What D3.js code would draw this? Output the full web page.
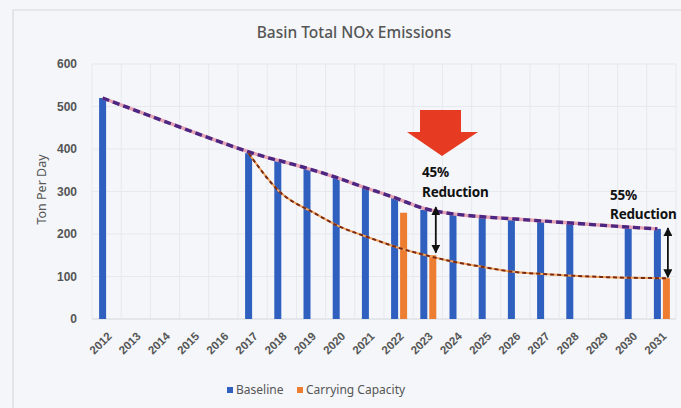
<!DOCTYPE html>
<html>
<head>
<meta charset="utf-8">
<script src="https://cdn.jsdelivr.net/npm/d3@7"></script>
<style>
  body { margin: 0; background: #f4f6f9; }
  svg { display: block; font-family: "Noto Sans", "Open Sans", sans-serif; }
</style>
</head>
<body>
<div class="chart"></div>
<script>
const years = ["2012","2013","2014","2015","2016","2017","2018","2019","2020","2021",
               "2022","2023","2024","2025","2026","2027","2028","2029","2030","2031"]
// null = no bar that year
const baseline = [520,null,null,null,null,390,374,355,334,308,
                  287,257,247,240,236,231,226,null,216,212]
const carrying = [null,null,null,null,null,null,null,null,null,null,
                  250,150,null,null,null,null,null,null,null,96]
// lower dashed curve, from 2017 on
const targetYears = ["2017","2018","2019","2020","2021","2022","2023","2024","2025","2026","2027","2028","2029","2030","2031"]
const targetPath = [390,299,256,219,193,169,150,134,122,111,106,102,99,97,96]
const yTicks = [0,100,200,300,400,500,600]
const seriesNames = ["Baseline","Carrying Capacity"]
const colors = ["#2f5fbf", "#ed7d31"]

const width = 681, height = 408
const plot = {left: 92, right: 676, top: 64, bottom: 319}

const svg = d3.select(".chart").append("svg")
    .attr("width", width)
    .attr("height", height)

svg.append("rect").attr("width", width).attr("height", height).attr("fill", "#f4f6f9")
// frame of the pasted chart
svg.append("path")
    .attr("d", `M13,${height} V10 H${width}`)
    .attr("fill", "none").attr("stroke", "#d6d9de").attr("stroke-width", 1.2)

const x = d3.scaleBand().domain(years).range([plot.left, plot.right])
const y = d3.scaleLinear().domain([0, 600]).range([plot.bottom, plot.top])
const barW = 7
const blueX = d => x(d) + x.bandwidth() / 2 - 7.5
const orangeX = d => x(d) + x.bandwidth() / 2 + 1.5

// grid
svg.append("g")
    .selectAll("line.h")
    .data(yTicks)
    .join("line")
    .attr("x1", plot.left).attr("x2", plot.right)
    .attr("y1", d => y(d)).attr("y2", d => y(d))
    .attr("stroke", "#e6e9ee").attr("stroke-width", 1)
svg.append("g")
    .selectAll("line")
    .data(years.concat(["end"]))
    .join("line")
    .attr("x1", d => d === "end" ? plot.right : x(d))
    .attr("x2", d => d === "end" ? plot.right : x(d))
    .attr("y1", plot.top).attr("y2", plot.bottom)
    .attr("stroke", "#e6e9ee").attr("stroke-width", 1)

// y axis
const yAxis = svg.append("g")
    .attr("transform", `translate(${plot.left - 12},0)`)
    .call(d3.axisLeft(y).tickValues(yTicks).tickSize(0))
yAxis.select(".domain").remove()
yAxis.selectAll("text")
    .attr("fill", "#555").style("font-size", "12px").style("font-weight", "600")

svg.append("text")
    .attr("transform", `translate(46,${(plot.top + plot.bottom) / 2 - 2}) rotate(-90)`)
    .attr("text-anchor", "middle")
    .attr("fill", "#555")
    .style("font-size", "12.5px")
    .text("Ton Per Day")

// x axis
svg.append("line")
    .attr("x1", plot.left).attr("x2", plot.right)
    .attr("y1", plot.bottom).attr("y2", plot.bottom)
    .attr("stroke", "#d9dce1")
const xAxis = svg.append("g")
    .attr("transform", `translate(0,${plot.bottom})`)
    .call(d3.axisBottom(x).tickSize(0))
xAxis.select(".domain").remove()
xAxis.selectAll("text")
    .attr("fill", "#555")
    .style("font-size", "11.5px")
    .style("font-weight", "600")
    .attr("text-anchor", "end")
    .attr("transform", "translate(3,15) rotate(-45)")
    .attr("dy", "0.35em")
    .attr("y", 0)

// bars
svg.append("g")
    .selectAll("rect")
    .data(years.map((d, i) => ({year: d, value: baseline[i]})).filter(d => d.value != null))
    .join("rect")
    .attr("x", d => blueX(d.year))
    .attr("y", d => y(d.value))
    .attr("width", barW)
    .attr("height", d => y(0) - y(d.value))
    .attr("fill", colors[0])
svg.append("g")
    .selectAll("rect")
    .data(years.map((d, i) => ({year: d, value: carrying[i]})).filter(d => d.value != null))
    .join("rect")
    .attr("x", d => orangeX(d.year))
    .attr("y", d => y(d.value))
    .attr("width", barW)
    .attr("height", d => y(0) - y(d.value))
    .attr("fill", colors[1])

// upper dashed trend through baseline tops
const basePts = years.map((d, i) => ({year: d, value: baseline[i]})).filter(d => d.value != null)
const upper = d3.line()
    .x(d => blueX(d.year) + barW / 2)
    .y(d => y(d.value))
    .curve(d3.curveBasis)
svg.append("path").datum(basePts)
    .attr("d", upper).attr("fill", "none")
    .attr("stroke", "#e6a3b4").attr("stroke-width", 3.4)
svg.append("path").datum(basePts)
    .attr("d", upper).attr("fill", "none")
    .attr("stroke", "#4b2683").attr("stroke-width", 3.4)
    .attr("stroke-dasharray", "7,4")

// lower dashed curve toward carrying capacity
const lowPts = targetYears.map((d, i) => ({year: d, value: targetPath[i]}))
const lower = d3.line()
    .x((d, i) => i === 0 ? blueX(d.year) + barW / 2 : (i === lowPts.length - 1 ? orangeX(d.year) + barW / 2 : x(d.year) + x.bandwidth() / 2 - 2))
    .y(d => y(d.value))
    .curve(d3.curveNatural)
svg.append("path").datum(lowPts)
    .attr("d", lower).attr("fill", "none")
    .attr("stroke", "#f2a45c").attr("stroke-width", 2)
svg.append("path").datum(lowPts)
    .attr("d", lower).attr("fill", "none")
    .attr("stroke", "#7a2a14").attr("stroke-width", 2)
    .attr("stroke-dasharray", "4,3")

// double headed arrows between the curves
svg.append("defs").append("marker")
    .attr("id", "head").attr("viewBox", "0 0 10 10")
    .attr("refX", 9).attr("refY", 5)
    .attr("markerWidth", 5).attr("markerHeight", 5)
    .attr("orient", "auto-start-reverse")
    .append("path").attr("d", "M0,0 L10,5 L0,10 Z").attr("fill", "#111")
const arrows = [{year: "2023", from: 263, to: 156, dx: 6.5}, {year: "2031", from: 214, to: 98, dx: 5}]
svg.append("g")
    .selectAll("line")
    .data(arrows)
    .join("line")
    .attr("x1", d => orangeX(d.year) + d.dx).attr("x2", d => orangeX(d.year) + d.dx)
    .attr("y1", d => y(d.from)).attr("y2", d => y(d.to))
    .attr("stroke", "#111").attr("stroke-width", 1.8)
    .attr("marker-start", "url(#head)").attr("marker-end", "url(#head)")

// big red arrow
svg.append("path")
    .attr("d", "M420,110 H461 V132 H478 L442,156 L407,132 H420 Z")
    .attr("fill", "#e63b22")

const notes = [
    {x: 422, y: 177, t: "45%"}, {x: 422, y: 197, t: "Reduction"},
    {x: 610, y: 200, t: "55%"}, {x: 610, y: 219, t: "Reduction"}
]
svg.append("g")
    .selectAll("text")
    .data(notes)
    .join("text")
    .attr("x", d => d.x).attr("y", d => d.y)
    .attr("fill", "#111")
    .style("font-size", "13.5px")
    .style("font-weight", "bold")
    .style("letter-spacing", "-0.2px")
    .text(d => d.t)

// title
svg.append("text")
    .attr("x", 354).attr("y", 38)
    .attr("text-anchor", "middle")
    .attr("fill", "#555")
    .style("font-size", "15.5px")
    .style("font-weight", "500")
    .text("Basin Total NOx Emissions")

// legend
const legend = svg.append("g").attr("transform", "translate(227,387)")
const item = legend.selectAll("g")
    .data(seriesNames)
    .join("g")
    .attr("transform", (d, i) => `translate(${i * 70},0)`)
item.append("rect").attr("width", 6).attr("height", 6).attr("fill", (d, i) => colors[i])
item.append("text")
    .attr("x", 9).attr("y", 7)
    .attr("fill", "#555")
    .style("font-size", "12px")
    .text(d => d)
</script>
</body>
</html>
